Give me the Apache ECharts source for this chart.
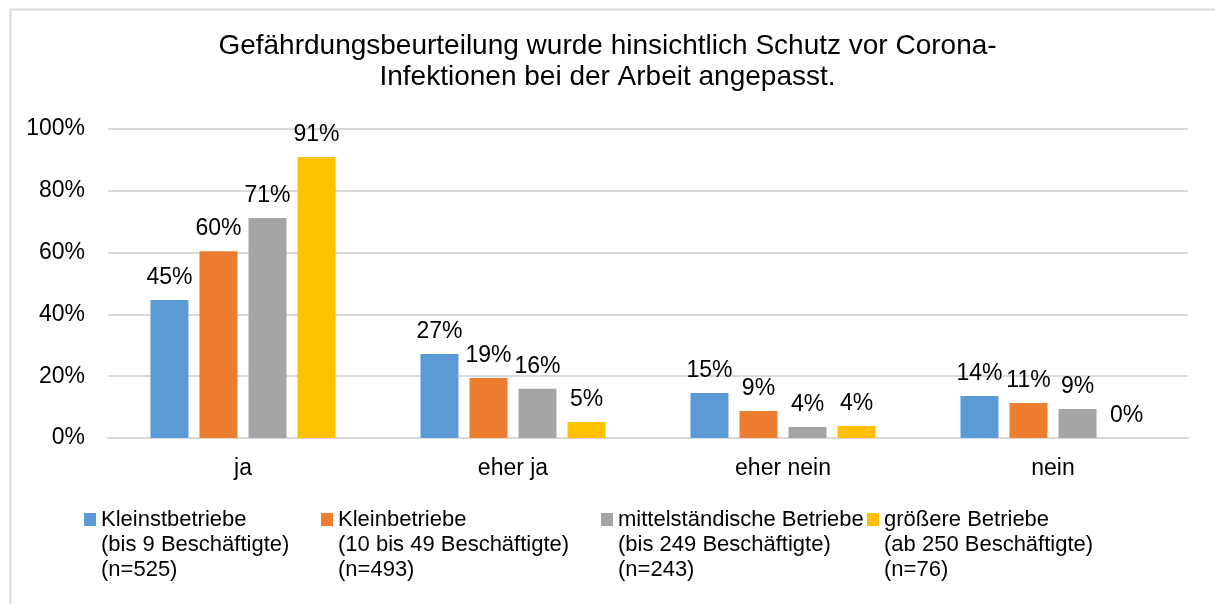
<!DOCTYPE html>
<html>
<head>
<meta charset="utf-8">
<script src="https://cdn.jsdelivr.net/npm/echarts@6/dist/echarts.min.js"></script>
<style>
  html, body { margin: 0; padding: 0; background: #fff; }
  #chart { width: 1215px; height: 604px; }
</style>
</head>
<body>
<div id="chart"></div>
<script>
const titleText = 'Gefährdungsbeurteilung wurde hinsichtlich Schutz vor Corona-\nInfektionen bei der Arbeit angepasst.'
const categories = ['ja', 'eher ja', 'eher nein', 'nein']
const seriesNames = [
  'Kleinstbetriebe\n(bis 9 Beschäftigte)\n(n=525)',
  'Kleinbetriebe\n(10 bis 49 Beschäftigte)\n(n=493)',
  'mittelständische Betriebe\n(bis 249 Beschäftigte)\n(n=243)',
  'größere Betriebe\n(ab 250 Beschäftigte)\n(n=76)'
]
const kleinst = [44.7, 27.2, 14.6, 13.6]
const klein = [60.4, 19.4, 8.7, 11.3]
const mittel = [71.2, 15.9, 3.6, 9.4]
const groesser = [90.9, 5.2, 3.9, 0]
const colors = ['#5B9BD5', '#ED7D31', '#A5A5A5', '#FFC000']
const legendLefts = [84, 321, 601, 867]

const font = "'Liberation Sans', Arial, sans-serif"
let chartInstance = echarts.init(document.getElementById('chart'))

// square at the top of a tall icon box so it lines up with the first text line
const legendIcon = 'path://M0,0L0,0M0,75L0,75M0,6H12V19H0Z'

function makeSeries(name, data, color) {
  return {
    name: name,
    type: 'bar',
    data: data,
    barWidth: 38,
    barGap: '29%',
    itemStyle: { color: color },
    label: {
      show: true,
      position: 'top',
      distance: 11,
      fontFamily: font,
      fontSize: 23,
      color: '#000',
      formatter: p => Math.round(p.value) + '%'
    }
  }
}

const allData = [kleinst, klein, mittel, groesser]

const option = {
  backgroundColor: '#fff',
  animation: false,
  title: {
    text: titleText,
    left: 'center',
    top: 31,
    padding: 0,
    textStyle: {
      fontFamily: font,
      fontSize: 28,
      fontWeight: 'normal',
      color: '#000',
      lineHeight: 31,
      align: 'center'
    }
  },
  legend: seriesNames.map((n, i) => ({
    data: [n],
    left: legendLefts[i],
    top: 507,
    padding: 0,
    icon: legendIcon,
    itemWidth: 12,
    itemHeight: 75,
    selectedMode: false,
    textStyle: {
      fontFamily: font,
      fontSize: 22,
      color: '#000',
      lineHeight: 25
    }
  })),
  grid: {
    left: 108,
    right: 27,
    top: 129,
    bottom: 166
  },
  xAxis: {
    type: 'category',
    data: categories,
    axisTick: { show: false },
    axisLine: { lineStyle: { color: '#D9D9D9', width: 2 } },
    axisLabel: {
      margin: 19,
      fontFamily: font,
      fontSize: 23,
      color: '#000'
    }
  },
  yAxis: {
    type: 'value',
    min: 0,
    max: 100,
    interval: 20,
    axisLine: { show: false },
    axisTick: { show: false },
    splitLine: { lineStyle: { color: '#D9D9D9', width: 2 } },
    axisLabel: {
      margin: 23,
      fontFamily: font,
      fontSize: 23,
      color: '#000',
      formatter: '{value}%'
    }
  },
  graphic: [{
    type: 'rect',
    left: 8,
    top: 7,
    shape: { width: 1300, height: 700 },
    style: { fill: 'none', stroke: '#D9D9D9', lineWidth: 2 },
    silent: true
  }],
  series: seriesNames.map((n, i) => makeSeries(n, allData[i], colors[i]))
}

chartInstance.setOption(option)
window.onresize = function () {
  chartInstance.resize()
}
</script>
</body>
</html>
